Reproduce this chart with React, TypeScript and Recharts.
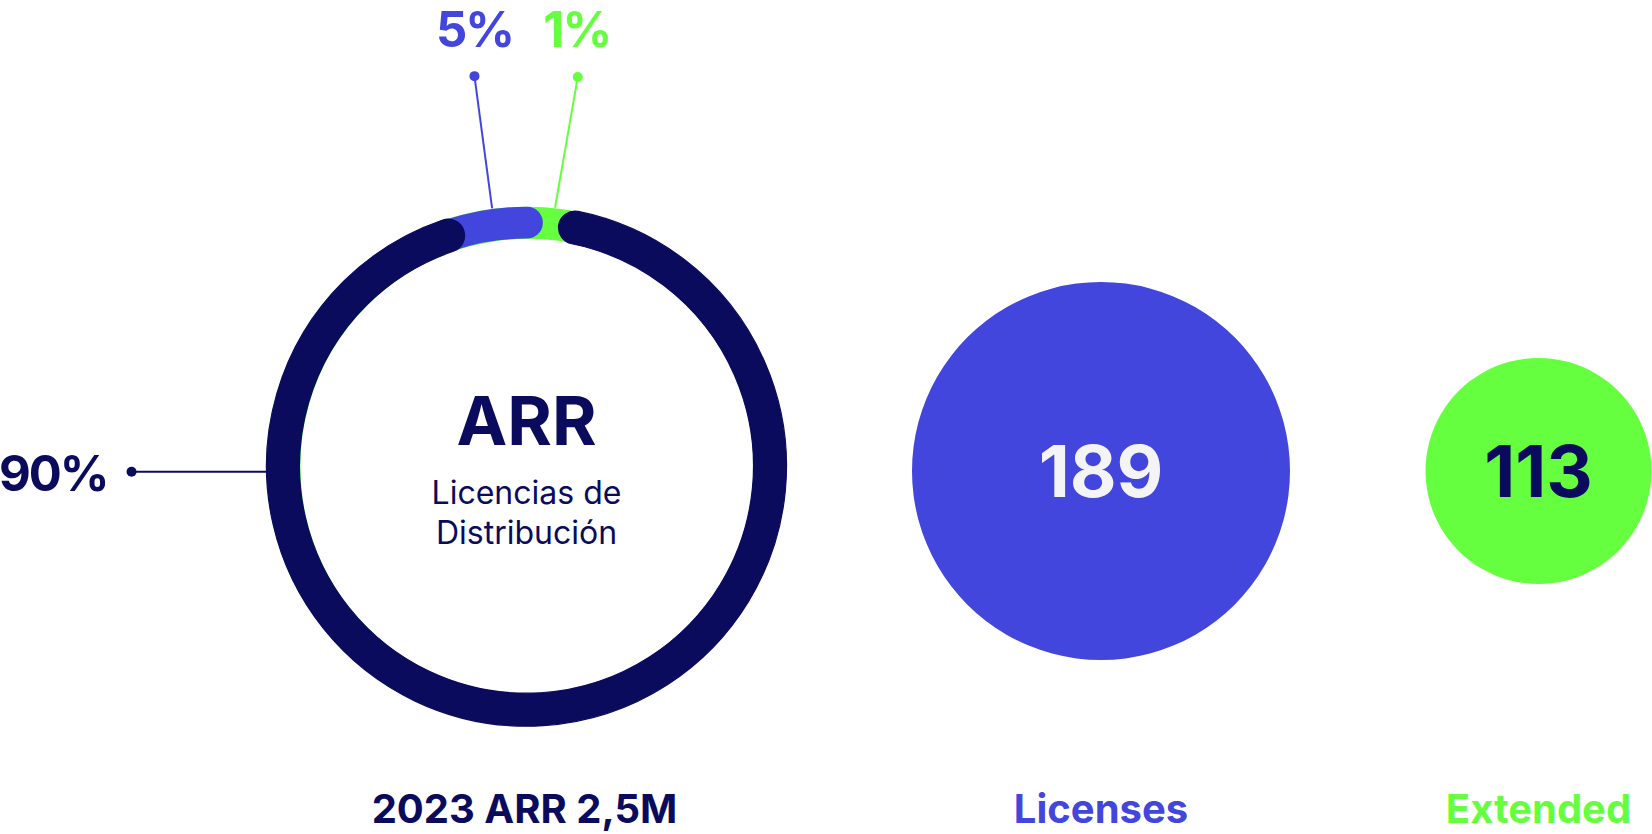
import React from 'react';
import { PieChart, Pie, Cell } from 'recharts';

// ring: share of ARR
const ringNames = ['Distribución', 'Licenses', 'Extended'];
const ringShares = [90, 5, 1];
const ringLabels = ['90%', '5%', '1%'];

// bubbles
const bubbleNames = ['Licenses', 'Extended'];
const bubbleValues = [189, 113];

const captions = ['2023 ARR 2,5M', 'Licenses', 'Extended'];
const centerTitle = 'ARR';
const centerLines = ['Licencias de', 'Distribución'];

const NAVY = '#0B0B5E';
const BLUE = '#4346DC';
const GREEN = '#66FF40';
const ringColors = [NAVY, BLUE, GREEN];
const bubbleColors = [BLUE, GREEN];
const bubbleText = ['#F4F4F6', NAVY];

const W = 1652;
const H = 834;
const FONT = 'Inter, "Noto Sans", sans-serif';

const CX = 526.5;
const CY = 466.2;
const R_IN = 227;
const R_OUT = 260;
const START = 82.4;

const BUBBLE_CY = 471;
const BUBBLE_CX = [1101, 1538.5];
const BUBBLE_SCALE = 1; // px of radius per unit

// callouts: angle on ring, angle of dot, dot radius, text offset
const callouts = [
  { ring: 181.2, dot: 180.8, r: 395, anchor: 'end', dx: -24, dy: 19 },
  { ring: 97.6, dot: 97.6, r: 393.5, anchor: 'middle', dx: 0, dy: -29 },
  { ring: 83.7, dot: 82.5, r: 392.5, anchor: 'middle', dx: -1, dy: -30 },
];

const total = ringShares.reduce((a, b) => a + b, 0);
const cumulative = ringShares.map((_, i) =>
  ringShares.slice(0, i + 1).reduce((a, b) => a + b, 0)
);

// stacked layers, bottom (last share) first; lower layers a hair thinner so no fringe shows
const layers = ringShares
  .map((_, i) => ({
    i,
    inset: i === 0 ? 0 : 0.6,
    data: [
      { name: ringNames[i], value: cumulative[i] },
      { name: 'rest', value: total - cumulative[i] },
    ],
  }))
  .reverse();

const polar = (deg: number, r: number) => {
  const a = (deg * Math.PI) / 180;
  return { x: CX + r * Math.cos(a), y: CY - r * Math.sin(a) };
};

export default function App() {
  return (
    <div style={{ position: 'absolute', left: 0, top: 0, width: W, height: H, background: '#fff' }}>
      <PieChart width={W} height={H} margin={{ top: 0, right: 0, bottom: 0, left: 0 }}>
        {layers.map(({ i, inset, data }) => (
          <Pie
            key={`ring-${i}`}
            data={data}
            dataKey="value"
            nameKey="name"
            cx={CX}
            cy={CY}
            innerRadius={R_IN + inset}
            outerRadius={R_OUT - inset}
            startAngle={START}
            endAngle={START - 360}
            cornerRadius={i === ringShares.length - 1 ? 0 : (R_OUT - R_IN) / 2 - inset}
            paddingAngle={0}
            stroke="none"
            isAnimationActive={false}
          >
            <Cell
              fill={ringColors[i]}
              stroke={i === 0 ? ringColors[i] : 'none'}
              strokeWidth={i === 0 ? 1.2 : 0}
            />
            <Cell fill="transparent" stroke="none" />
          </Pie>
        ))}
        {bubbleValues.map((v, i) => (
          <Pie
            key={`bubble-${i}`}
            data={[{ name: bubbleNames[i], value: v }]}
            dataKey="value"
            nameKey="name"
            cx={BUBBLE_CX[i]}
            cy={BUBBLE_CY}
            innerRadius={0}
            outerRadius={v * BUBBLE_SCALE}
            startAngle={90}
            endAngle={-270}
            stroke="none"
            isAnimationActive={false}
          >
            <Cell fill={bubbleColors[i]} />
          </Pie>
        ))}
      </PieChart>

      <svg
        width={W}
        height={H}
        style={{ position: 'absolute', left: 0, top: 0, pointerEvents: 'none' }}
        fontFamily={FONT}
      >
        {callouts.map((c, i) => {
          const p1 = polar(c.ring, R_OUT);
          const p2 = polar(c.dot, c.r);
          return (
            <g key={`co-${i}`}>
              <line x1={p1.x} y1={p1.y} x2={p2.x} y2={p2.y} stroke={ringColors[i]} strokeWidth={2} />
              <circle cx={p2.x} cy={p2.y} r={5} fill={ringColors[i]} />
              <text
                x={p2.x + c.dx}
                y={p2.y + c.dy}
                textAnchor={c.anchor as any}
                fontSize={49}
                fontWeight={700}
                letterSpacing={-2}
                fill={ringColors[i]}
              >
                {ringLabels[i]}
              </text>
            </g>
          );
        })}

        <text x={CX} y={445} textAnchor="middle" fontSize={68} fontWeight={700} fill={NAVY}>
          {centerTitle}
        </text>
        {centerLines.map((t, i) => (
          <text key={t} x={CX} y={504 + i * 40} textAnchor="middle" fontSize={32} fontWeight={400} fill={NAVY}>
            {t}
          </text>
        ))}

        {bubbleValues.map((v, i) => (
          <text
            key={`bv-${i}`}
            x={BUBBLE_CX[i]}
            y={BUBBLE_CY + 26}
            textAnchor="middle"
            fontSize={72}
            fontWeight={700}
            fill={bubbleText[i]}
          >
            {v}
          </text>
        ))}

        {captions.map((t, i) => (
          <text
            key={t}
            x={i === 0 ? CX - 2 : BUBBLE_CX[i - 1]}
            y={823}
            textAnchor="middle"
            fontSize={40}
            fontWeight={700}
            fill={i === 0 ? NAVY : bubbleColors[i - 1]}
          >
            {t}
          </text>
        ))}
      </svg>
    </div>
  );
}
